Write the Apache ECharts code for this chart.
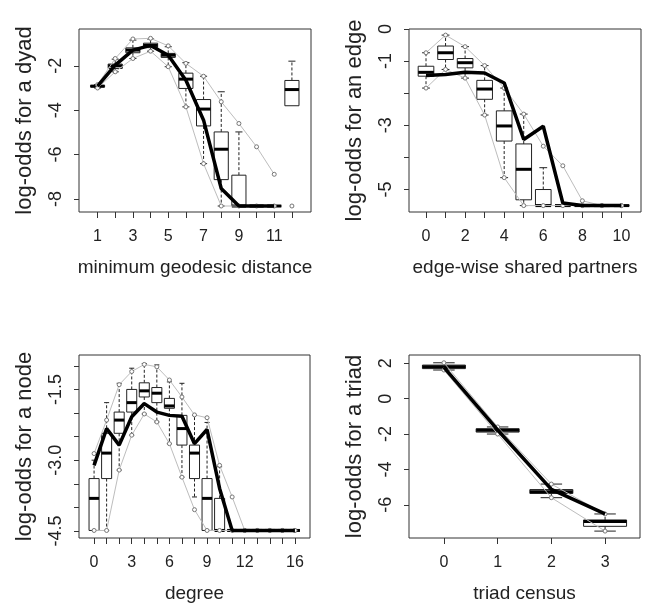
<!DOCTYPE html>
<html>
<head>
<meta charset="utf-8">
<script src="https://cdn.jsdelivr.net/npm/echarts@6/dist/echarts.min.js"></script>
<style>html,body{margin:0;padding:0;background:#fff;}#c{width:655px;height:606px;}</style>
</head>
<body>
<div id="c"></div>
<script>
// ---------- Panel 1: minimum geodesic distance ----------
var geoX   = [1, 2, 3, 4, 5, 6, 7, 8, 9, 10, 11, 12];
var geoMin = [-3.00, -2.27, -1.67, -1.34, -2.04, -3.85, -6.41, -8.32, -8.32, -8.32, -8.32, -3.80];
var geoQ1  = [-2.95, -2.12, -1.41, -1.18, -1.62, -3.02, -4.71, -7.13, -8.32, -8.32, -8.32, -3.80];
var geoMed = [-2.92, -2.00, -1.29, -1.08, -1.52, -2.60, -3.95, -5.76, -8.32, -8.32, -8.32, -3.07];
var geoQ3  = [-2.88, -1.92, -1.19, -0.98, -1.44, -2.33, -3.52, -4.98, -6.93, -8.32, -8.32, -2.66];
var geoMax = [-2.85, -1.70, -0.84, -0.79, -1.14, -1.86, -2.47, -3.17, -4.98, -8.32, -8.32, -1.79];
var geoLo  = [-3.00, -2.27, -1.67, -1.34, -2.04, -3.85, -6.41, -8.32, -8.32, -8.32, -8.32];
var geoHi  = [-2.85, -1.67, -0.79, -0.76, -1.10, -1.89, -2.47, -3.62, -4.60, -5.65, -6.89];
var geoObs = [-2.92, -1.97, -1.29, -1.08, -1.52, -2.65, -4.45, -7.53, -8.32, -8.32, -8.32];
var geoNR  = [[12, -8.32]];
var geoXTicks  = [1, 2, 3, 4, 5, 6, 7, 8, 9, 10, 11, 12];
var geoXLabels = [1, 3, 5, 7, 9, 11];
var geoYTicks  = [-8, -6, -4, -2];

// ---------- Panel 2: edge-wise shared partners ----------
var espX   = [0, 1, 2, 3, 4, 5, 6, 7, 8, 9, 10];
var espMin = [-1.84, -1.26, -1.53, -2.68, -4.63, -5.50, -5.50, -5.50, -5.50, -5.50, -5.50];
var espQ1  = [-1.47, -0.95, -1.21, -2.19, -3.49, -5.32, -5.50, -5.50, -5.50, -5.50, -5.50];
var espMed = [-1.35, -0.74, -1.05, -1.87, -3.02, -4.37, -5.50, -5.50, -5.50, -5.50, -5.50];
var espQ3  = [-1.16, -0.53, -0.92, -1.60, -2.55, -3.58, -5.00, -5.50, -5.50, -5.50, -5.50];
var espMax = [-0.74, -0.19, -0.55, -1.14, -1.84, -2.65, -4.32, -5.50, -5.50, -5.50, -5.50];
var espLo  = [-1.84, -1.26, -1.53, -2.68, -4.63, -5.50, -5.50, -5.50, -5.50, -5.50, -5.50];
var espHi  = [-0.74, -0.19, -0.55, -1.14, -1.84, -2.65, -3.65, -4.26, -5.35, -5.50, -5.50];
var espObs = [-1.45, -1.42, -1.35, -1.37, -1.68, -3.44, -3.03, -5.42, -5.50, -5.50, -5.50];
var espXTicks  = [0, 1, 2, 3, 4, 5, 6, 7, 8, 9, 10];
var espXLabels = [0, 2, 4, 6, 8, 10];
var espYTicks  = [-5, -4, -3, -2, -1, 0];
var espYLabels = [-5, -3, -1, 0];

// ---------- Panel 3: degree ----------
var degX   = [0, 1, 2, 3, 4, 5, 6, 7, 8, 9, 10, 11, 12, 13, 14, 15, 16];
var degMin = [-4.49, -4.49, -3.21, -2.47, -2.02, -2.19, -2.65, -3.36, -3.78, -4.49, -4.49, -4.49, -4.49, -4.49, -4.49, -4.49, -4.49];
var degQ1  = [-4.49, -3.39, -2.43, -1.98, -1.66, -1.78, -1.90, -2.68, -3.39, -4.49, -4.49, -4.49, -4.49, -4.49, -4.49, -4.49, -4.49];
var degMed = [-3.81, -2.85, -2.15, -1.78, -1.53, -1.58, -1.85, -2.33, -2.85, -3.81, -4.49, -4.49, -4.49, -4.49, -4.49, -4.49, -4.49];
var degQ3  = [-3.39, -2.43, -1.98, -1.50, -1.36, -1.46, -1.69, -2.05, -2.68, -3.39, -3.81, -4.49, -4.49, -4.49, -4.49, -4.49, -4.49];
var degMax = [-3.00, -1.78, -1.37, -1.05, -0.95, -0.98, -1.34, -1.37, -2.05, -2.20, -3.14, -4.49, -4.49, -4.49, -4.49, -4.49, -4.49];
var degLo  = [-4.49, -4.49, -3.21, -2.47, -2.02, -2.19, -2.65, -3.36, -4.05, -4.49, -4.49, -4.49, -4.49, -4.49, -4.49, -4.49, -4.49];
var degHi  = [-2.86, -2.15, -1.40, -1.12, -0.97, -1.02, -1.30, -1.66, -2.04, -2.10, -3.11, -3.78, -4.49, -4.49, -4.49, -4.49, -4.49];
var degObs = [-3.11, -2.33, -2.68, -2.08, -1.80, -1.98, -2.05, -2.07, -2.65, -2.35, -3.60, -4.49, -4.49, -4.49, -4.49, -4.49, -4.49];
var degXTicks  = [0, 1, 2, 3, 4, 5, 6, 7, 8, 9, 10, 11, 12, 13, 14, 15, 16];
var degXLabels = [0, 3, 6, 9, 12, 16];
var degYTicks  = [-4.5, -4.0, -3.5, -3.0, -2.5, -2.0, -1.5, -1.0];
var degYLabels = [-4.5, -3.0, -1.5];

// ---------- Panel 4: triad census ----------
var triX   = [0, 1, 2, 3];
var triMin = [1.62, -2.00, -5.60, -7.49];
var triQ1  = [1.70, -1.89, -5.36, -7.22];
var triMed = [1.80, -1.78, -5.26, -6.95];
var triQ3  = [1.90, -1.70, -5.14, -6.86];
var triMax = [2.03, -1.60, -4.83, -6.52];
var triLo  = [1.62, -2.00, -5.60, -7.49];
var triHi  = [2.03, -1.60, -4.83, -6.52];
var triObs = [1.77, -1.77, -5.13, -6.52];
var triXTicks = [0, 1, 2, 3];
var triYTicks = [-6, -4, -2, 0, 2];

var FONT = '"Liberation Sans", Arial, sans-serif';
var TXT = '#222';

function zip(xs, ys) { var o = []; for (var i = 0; i < ys.length; i++) o.push([xs[i], ys[i]]); return o; }
function boxData(xs, mn, q1, md, q3, mx) {
  var o = []; for (var i = 0; i < xs.length; i++) o.push([xs[i], mn[i], q1[i], md[i], q3[i], mx[i]]); return o;
}

function renderBox(params, api) {
  var x = api.value(0), mn = api.value(1), q1 = api.value(2), md = api.value(3), q3 = api.value(4), mx = api.value(5);
  var hw = 0.4, cw = 0.2, stroke = '#222';
  var tl = api.coord([x - hw, q3]), br = api.coord([x + hw, q1]);
  var mL = api.coord([x - hw, md]), mR = api.coord([x + hw, md]);
  var top = api.coord([x, mx]), bot = api.coord([x, mn]);
  var cL = api.coord([x - cw, mx]), cR = api.coord([x + cw, mx]);
  var dL = api.coord([x - cw, mn]), dR = api.coord([x + cw, mn]);
  var ch = [];
  if (mx > q3) {
    ch.push({type: 'line', shape: {x1: top[0], y1: tl[1], x2: top[0], y2: top[1]}, style: {stroke: stroke, lineWidth: 1, lineDash: [3, 2]}});
    ch.push({type: 'line', shape: {x1: cL[0], y1: cL[1], x2: cR[0], y2: cR[1]}, style: {stroke: stroke, lineWidth: 1}});
  }
  if (mn < q1) {
    ch.push({type: 'line', shape: {x1: bot[0], y1: br[1], x2: bot[0], y2: bot[1]}, style: {stroke: stroke, lineWidth: 1, lineDash: [3, 2]}});
    ch.push({type: 'line', shape: {x1: dL[0], y1: dL[1], x2: dR[0], y2: dR[1]}, style: {stroke: stroke, lineWidth: 1}});
  }
  ch.push({type: 'rect', shape: {x: tl[0], y: tl[1], width: br[0] - tl[0], height: br[1] - tl[1]}, style: {fill: '#fff', stroke: stroke, lineWidth: 1}});
  ch.push({type: 'line', shape: {x1: mL[0], y1: mL[1], x2: mR[0], y2: mR[1]}, style: {stroke: '#000', lineWidth: 3}});
  return {type: 'group', children: ch};
}

var grids = [
  {left: 79, top: 29, width: 232, height: 183},
  {left: 409, top: 29, width: 232, height: 183},
  {left: 79, top: 355, width: 231, height: 183},
  {left: 409, top: 355, width: 231, height: 183}
];
grids.forEach(function (g) { g.show = true; g.borderColor = '#333'; g.borderWidth = 1; g.backgroundColor = 'transparent'; g.containLabel = false; });

function xAx(idx, min, max, ticks, labels, name) {
  return {
    type: 'value', gridIndex: idx, min: min, max: max, position: 'bottom',
    name: name, nameLocation: 'middle', nameGap: 46,
    nameTextStyle: {fontFamily: FONT, fontSize: 19, color: TXT},
    axisLine: {show: false, onZero: false}, splitLine: {show: false},
    axisTick: {show: true, inside: false, length: 6, customValues: ticks, lineStyle: {color: '#333'}},
    axisLabel: {show: true, customValues: labels, margin: 17, fontFamily: FONT, fontSize: 16, color: TXT, hideOverlap: false}
  };
}
function yAx(idx, min, max, ticks, labels, name, fmt) {
  return {
    type: 'value', gridIndex: idx, min: min, max: max, position: 'left',
    name: name, nameLocation: 'middle', nameGap: 43,
    nameTextStyle: {fontFamily: FONT, fontSize: 22, color: TXT},
    axisLine: {show: false, onZero: false}, splitLine: {show: false},
    axisTick: {show: true, inside: false, length: 5, customValues: ticks, lineStyle: {color: '#333'}},
    axisLabel: {show: true, customValues: labels, rotate: 90, margin: 14, fontFamily: FONT, fontSize: 18, color: TXT, hideOverlap: false,
      formatter: fmt || function (v) { return String(v); }}
  };
}

function panelSeries(idx, xs, mn, q1, md, q3, mx, lo, hi, obs) {
  var grey = {color: '#bdbdbd', width: 1};
  var sym = {color: '#fff', borderColor: '#777', borderWidth: 1};
  return [
    {type: 'custom', xAxisIndex: idx, yAxisIndex: idx, renderItem: renderBox, data: boxData(xs, mn, q1, md, q3, mx), z: 2, silent: true},
    {type: 'line', xAxisIndex: idx, yAxisIndex: idx, data: zip(xs, lo), lineStyle: grey, symbol: 'circle', symbolSize: 4, itemStyle: sym, z: 3, silent: true, animation: false},
    {type: 'line', xAxisIndex: idx, yAxisIndex: idx, data: zip(xs, hi), lineStyle: grey, symbol: 'circle', symbolSize: 4, itemStyle: sym, z: 3, silent: true, animation: false},
    {type: 'line', xAxisIndex: idx, yAxisIndex: idx, data: zip(xs, obs), lineStyle: {color: '#000', width: 3.5}, showSymbol: false, symbol: 'none', z: 4, silent: true, animation: false}
  ];
}

var series = [].concat(
  panelSeries(0, geoX, geoMin, geoQ1, geoMed, geoQ3, geoMax, geoLo, geoHi, geoObs),
  [{type: 'scatter', xAxisIndex: 0, yAxisIndex: 0, data: geoNR, symbol: 'circle', symbolSize: 4, itemStyle: {color: '#fff', borderColor: '#555', borderWidth: 1}, z: 5, silent: true}],
  panelSeries(1, espX, espMin, espQ1, espMed, espQ3, espMax, espLo, espHi, espObs),
  panelSeries(2, degX, degMin, degQ1, degMed, degQ3, degMax, degLo, degHi, degObs),
  panelSeries(3, triX, triMin, triQ1, triMed, triQ3, triMax, triLo, triHi, triObs)
);

var chart = echarts.init(document.getElementById('c'), null, {renderer: 'canvas'});
chart.setOption({
  animation: false,
  backgroundColor: '#fff',
  textStyle: {fontFamily: FONT},
  grid: grids,
  xAxis: [
    xAx(0, -0.05, 13.08, geoXTicks, geoXLabels, 'minimum geodesic distance'),
    xAx(1, -0.87, 11.0, espXTicks, espXLabels, 'edge-wise shared partners'),
    xAx(2, -1.2, 17.2, degXTicks, degXLabels, 'degree'),
    xAx(3, -0.65, 3.65, triXTicks, triXTicks, 'triad census')
  ],
  yAxis: [
    yAx(0, -8.59, -0.34, geoYTicks, geoYTicks, 'log-odds for a dyad'),
    yAx(1, -5.70, 0.0, espYTicks, espYLabels, 'log-odds for an edge'),
    yAx(2, -4.65, -0.77, degYTicks, degYLabels, 'log-odds for a node', function (v) { return v.toFixed(1); }),
    yAx(3, -7.88, 2.47, triYTicks, triYTicks, 'log-odds for a triad')
  ],
  series: series
});
</script>
</body>
</html>
